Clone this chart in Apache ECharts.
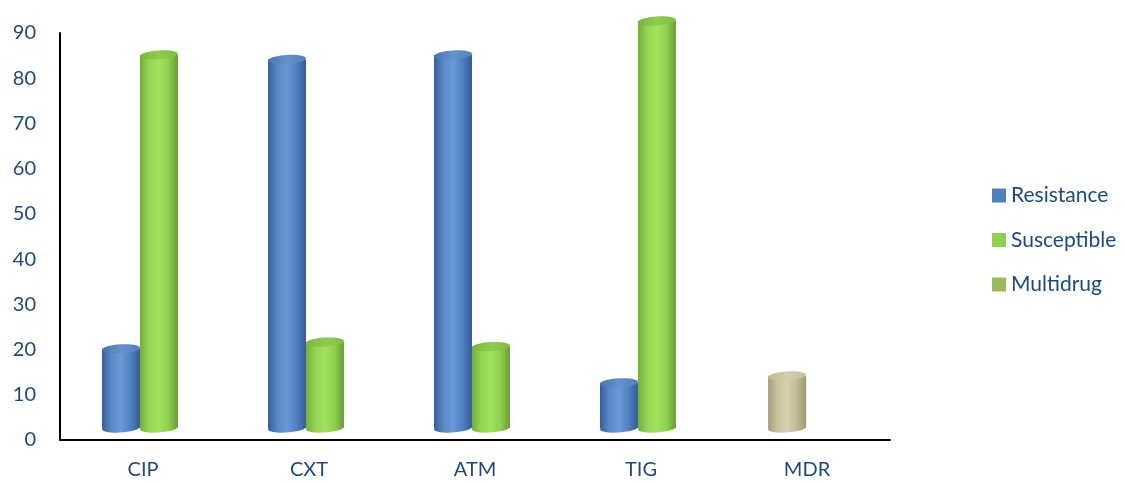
<!DOCTYPE html>
<html>
<head>
<meta charset="utf-8">
<script src="https://cdn.jsdelivr.net/npm/echarts@6/dist/echarts.min.js"></script>
<style>
  html, body { margin: 0; padding: 0; background: #fff; }
  #chart { width: 1125px; height: 482px; }
</style>
</head>
<body>
<div id="chart"></div>
<script>
const categories = ['CIP', 'CXT', 'ATM', 'TIG', 'MDR']
const resistance = [17.5, 81.5, 82.5, 10, null]
const susceptible = [82.5, 19, 18, 90, null]
const multidrug = [null, null, null, null, 11.5]
const yTicks = [0, 10, 20, 30, 40, 50, 60, 70, 80, 90]

const txt = '#1F497D'
const font = 'Lato, "Open Sans", sans-serif'

function grad(stops) {
  return new echarts.graphic.LinearGradient(0, 0, 1, 0,
    stops.map((c, i) => ({offset: i / (stops.length - 1), color: c})))
}

// 3d-ish cylinder drawn from the axis coords
function cylinder(slot, body, top) {
  return function (params, api) {
    const idx = api.value(0)
    const v = api.value(1)
    const band = api.size([1, 0])[0]
    const base = api.coord([idx, 0])
    const head = api.coord([idx, v])
    const w = band * 0.229
    const cx = base[0] + slot * band
    const lift = 12
    const ry = 4.5
    const yb = base[1] - lift
    const yt = head[1] - lift
    return {
      type: 'group',
      children: [
        {type: 'ellipse', shape: {cx: cx, cy: yb, rx: w / 2, ry: ry},
          rotation: 0.06, originX: cx, originY: yb, style: {fill: grad(body)}},
        {type: 'rect', shape: {x: cx - w / 2, y: yt, width: w, height: yb - yt},
          style: {fill: grad(body)}},
        {type: 'ellipse', shape: {cx: cx, cy: yt, rx: w / 2, ry: ry},
          rotation: 0.06, originX: cx, originY: yt, style: {fill: grad(top)}}
      ]
    }
  }
}

function pts(arr) {
  const out = []
  arr.forEach((v, i) => { if (v != null) out.push([i, v]) })
  return out
}

const blueBody = ['#365f98', '#5a89c9', '#6b99d8', '#4f80c2', '#355c92']
const blueTop = ['#4a74ae', '#6690c9', '#5581bd']
const greenBody = ['#74ad3c', '#94d655', '#a0e35e', '#8fd04e', '#689c33']
const greenTop = ['#78b53e', '#8fcc50', '#80bd44']
const khakiBody = ['#a59e78', '#c8c29f', '#d6d1b0', '#c1ba95', '#9e9770']
const khakiTop = ['#bfb893', '#d3cdab', '#c6bf9b']

const myChart = echarts.init(document.getElementById('chart'))
myChart.setOption({
  animation: false,
  grid: {left: 60, right: 235, top: 33, bottom: 42},
  legend: {
    orient: 'vertical',
    left: 987,
    top: 180,
    itemWidth: 14,
    itemHeight: 14,
    itemGap: 23.5,
    icon: 'rect',
    textStyle: {color: txt, fontSize: 21, fontFamily: font},
    data: ['Resistance', 'Susceptible', 'Multidrug']
  },
  xAxis: {
    type: 'category',
    data: categories,
    axisLine: {lineStyle: {color: '#000', width: 2}},
    axisTick: {show: false},
    axisLabel: {color: txt, fontSize: 20, fontFamily: font, margin: 20}
  },
  yAxis: {
    type: 'value',
    min: yTicks[0],
    max: yTicks[yTicks.length - 1],
    interval: 10,
    axisLine: {show: true, lineStyle: {color: '#000', width: 2}},
    axisTick: {show: false},
    splitLine: {show: false},
    axisLabel: {color: txt, fontSize: 20, fontFamily: font, margin: 24}
  },
  series: [
    {
      name: 'Resistance',
      type: 'custom',
      itemStyle: {color: '#4f81bd'},
      encode: {x: 0, y: 1},
      data: pts(resistance),
      renderItem: cylinder(-0.1325, blueBody, blueTop)
    },
    {
      name: 'Susceptible',
      type: 'custom',
      itemStyle: {color: '#92d050'},
      encode: {x: 0, y: 1},
      data: pts(susceptible),
      renderItem: cylinder(0.096, greenBody, greenTop)
    },
    {
      name: 'Multidrug',
      type: 'custom',
      itemStyle: {color: '#9bbb59'},
      encode: {x: 0, y: 1},
      data: pts(multidrug),
      renderItem: cylinder(-0.12, khakiBody, khakiTop)
    }
  ]
})
</script>
</body>
</html>
